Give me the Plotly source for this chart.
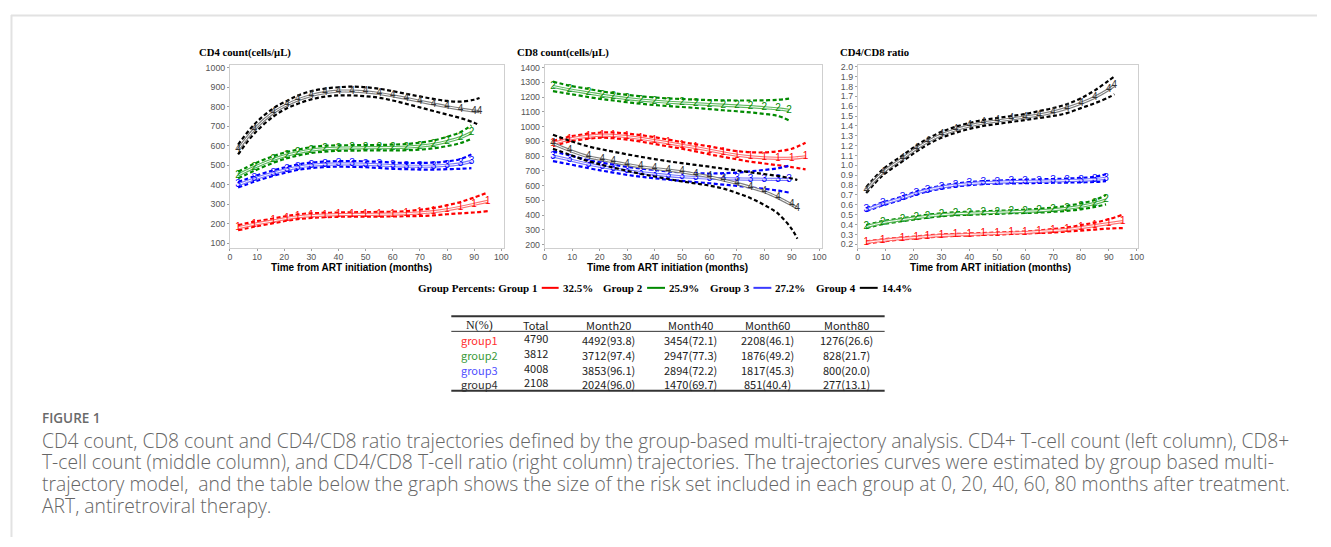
import plotly.graph_objects as go

# page body has an 8px margin, so the figure starts at (8, 8) in the window;
# keep the figure inside the window so no scrollbars appear
OFF = 8
W, H = 1331 - 2 * OFF, 547 - 2 * OFF

# ---------------- data ----------------
MONTHS_G1 = [3, 9, 16, 21, 25, 30, 35, 40, 45, 50, 55, 60, 65, 70, 75, 80, 85, 90, 95]
MONTHS_G2 = [3, 9, 16, 21, 25, 30, 35, 40, 45, 50, 55, 60, 65, 70, 75, 80, 85, 89]
MONTHS_G3 = [3, 9, 16, 21, 25, 30, 35, 40, 45, 50, 55, 60, 65, 70, 75, 80, 85, 89]
MONTHS_G4 = [3, 9, 16, 21, 25, 30, 35, 40, 45, 50, 55, 60, 65, 70, 75, 80, 85, 90, 92]

# CD4 count (cells/uL)
CD4_G1_EST = [180, 198, 215, 228, 236, 242, 245, 247, 248, 248, 249, 250, 252, 256, 262, 272, 285, 300, 315]
CD4_G1_LO = [167, 185, 203, 216, 224, 230, 234, 236, 237, 237, 237, 238, 239, 240, 243, 249, 254, 258, 265]
CD4_G1_HI = [193, 211, 227, 240, 248, 254, 256, 258, 259, 260, 261, 262, 265, 272, 281, 295, 312, 335, 360]
CD4_G2_EST = [450, 490, 530, 552, 565, 578, 585, 588, 589, 590, 590, 591, 593, 598, 607, 622, 642, 668]
CD4_G2_LO = [433, 472, 513, 536, 550, 563, 570, 574, 575, 576, 576, 576, 577, 580, 587, 598, 614, 636]
CD4_G2_HI = [467, 508, 547, 568, 580, 593, 600, 602, 603, 604, 604, 606, 609, 616, 627, 646, 670, 705]
CD4_G3_EST = [400, 430, 460, 478, 490, 500, 505, 507, 507, 505, 502, 498, 496, 495, 496, 500, 507, 520]
CD4_G3_LO = [386, 416, 446, 464, 476, 486, 491, 493, 492, 490, 486, 482, 480, 478, 478, 480, 482, 485]
CD4_G3_HI = [414, 444, 474, 492, 504, 514, 519, 521, 522, 520, 518, 514, 512, 512, 514, 520, 532, 556]
CD4_G4_EST = [580, 685, 770, 810, 835, 858, 872, 880, 880, 876, 868, 856, 843, 828, 814, 800, 788, 778, 775]
CD4_G4_LO = [556, 663, 750, 792, 815, 838, 852, 858, 858, 854, 846, 832, 815, 797, 778, 760, 742, 718, 705]
CD4_G4_HI = [606, 710, 792, 830, 857, 880, 893, 900, 903, 900, 892, 880, 866, 853, 840, 830, 826, 836, 845]

# CD8 count (cells/uL)
CD8_G1_EST = [885, 915, 935, 942, 940, 932, 920, 905, 890, 873, 858, 840, 822, 806, 795, 788, 785, 786, 795]
CD8_G1_LO = [868, 898, 918, 925, 921, 912, 898, 882, 866, 850, 832, 812, 795, 778, 762, 750, 738, 725, 710]
CD8_G1_HI = [902, 932, 952, 960, 960, 953, 942, 928, 912, 895, 880, 866, 848, 834, 826, 825, 833, 850, 890]
CD8_G2_EST = [1272, 1250, 1228, 1212, 1202, 1190, 1180, 1172, 1165, 1160, 1155, 1150, 1145, 1140, 1135, 1128, 1120, 1110]
CD8_G2_LO = [1240, 1222, 1200, 1186, 1177, 1165, 1155, 1146, 1139, 1133, 1126, 1119, 1111, 1104, 1096, 1086, 1072, 1042]
CD8_G2_HI = [1305, 1278, 1255, 1238, 1227, 1215, 1205, 1198, 1191, 1187, 1183, 1180, 1178, 1177, 1177, 1178, 1182, 1190]
CD8_G3_EST = [800, 775, 745, 728, 715, 700, 688, 678, 668, 660, 655, 650, 647, 645, 644, 643, 642, 642]
CD8_G3_LO = [766, 745, 718, 701, 688, 673, 660, 650, 640, 632, 624, 616, 607, 598, 588, 578, 566, 553]
CD8_G3_HI = [832, 805, 772, 755, 742, 727, 716, 706, 697, 689, 684, 682, 684, 688, 697, 706, 718, 735]
CD8_G4_EST = [885, 839, 795, 776, 761, 743, 727, 716, 705, 693, 677, 660, 638, 615, 588, 559, 518, 469, 447]
CD8_G4_LO = [850, 810, 765, 740, 722, 700, 680, 662, 645, 628, 615, 600, 580, 550, 515, 468, 410, 305, 240]
CD8_G4_HI = [945, 905, 865, 845, 830, 812, 795, 780, 765, 752, 740, 728, 715, 703, 690, 678, 665, 648, 638]

# CD4/CD8 ratio
RATIO_G1_EST = [0.22, 0.24, 0.26, 0.27, 0.28, 0.29, 0.295, 0.30, 0.305, 0.31, 0.315, 0.32, 0.33, 0.34, 0.35, 0.37, 0.39, 0.41, 0.43]
RATIO_G1_LO = [0.21, 0.23, 0.25, 0.26, 0.27, 0.28, 0.285, 0.29, 0.295, 0.30, 0.305, 0.31, 0.315, 0.32, 0.33, 0.34, 0.35, 0.36, 0.365]
RATIO_G1_HI = [0.23, 0.25, 0.27, 0.28, 0.29, 0.30, 0.305, 0.31, 0.315, 0.32, 0.325, 0.33, 0.34, 0.355, 0.37, 0.395, 0.42, 0.455, 0.50]
RATIO_G2_EST = [0.38, 0.42, 0.45, 0.47, 0.485, 0.50, 0.51, 0.515, 0.52, 0.525, 0.53, 0.535, 0.54, 0.55, 0.565, 0.585, 0.615, 0.65]
RATIO_G2_LO = [0.365, 0.405, 0.435, 0.455, 0.47, 0.485, 0.495, 0.50, 0.505, 0.51, 0.515, 0.518, 0.522, 0.53, 0.54, 0.555, 0.58, 0.605]
RATIO_G2_HI = [0.395, 0.435, 0.465, 0.485, 0.50, 0.515, 0.525, 0.53, 0.535, 0.54, 0.545, 0.552, 0.56, 0.572, 0.59, 0.615, 0.65, 0.70]
RATIO_G3_EST = [0.55, 0.61, 0.67, 0.72, 0.75, 0.78, 0.80, 0.815, 0.825, 0.83, 0.835, 0.838, 0.84, 0.843, 0.846, 0.85, 0.858, 0.87]
RATIO_G3_LO = [0.535, 0.595, 0.655, 0.705, 0.735, 0.765, 0.785, 0.80, 0.81, 0.815, 0.818, 0.82, 0.822, 0.824, 0.826, 0.828, 0.832, 0.84]
RATIO_G3_HI = [0.565, 0.625, 0.685, 0.735, 0.765, 0.795, 0.815, 0.83, 0.84, 0.845, 0.852, 0.856, 0.858, 0.862, 0.866, 0.873, 0.885, 0.91]
RATIO_G4_EST = [0.75, 0.93, 1.07, 1.17, 1.24, 1.31, 1.36, 1.40, 1.43, 1.45, 1.47, 1.49, 1.51, 1.54, 1.58, 1.63, 1.69, 1.77, 1.81]
RATIO_G4_LO = [0.72, 0.90, 1.04, 1.14, 1.21, 1.28, 1.33, 1.37, 1.40, 1.42, 1.44, 1.46, 1.48, 1.50, 1.53, 1.58, 1.63, 1.69, 1.72]
RATIO_G4_HI = [0.78, 0.96, 1.10, 1.20, 1.27, 1.34, 1.39, 1.43, 1.46, 1.48, 1.50, 1.52, 1.55, 1.58, 1.62, 1.68, 1.76, 1.86, 1.90]

PANEL_TITLES = ["CD4 count(cells/\u03bcL)", "CD8 count(cells/\u03bcL)", "CD4/CD8 ratio"]
X_TITLE = "Time from ART initiation (months)"
GROUP_LABELS = ["Group 1", "Group 2", "Group 3", "Group 4"]
GROUP_DIGITS = ["1", "2", "3", "4"]
GROUP_PERCENTS = [32.5, 25.9, 27.2, 14.4]

TABLE_HEADER = ["N(%)", "Total", "Month20", "Month40", "Month60", "Month80"]
TABLE_GROUPS = ["group1", "group2", "group3", "group4"]
TABLE_TOTAL = ["4790", "3812", "4008", "2108"]
TABLE_M20 = ["4492(93.8)", "3712(97.4)", "3853(96.1)", "2024(96.0)"]
TABLE_M40 = ["3454(72.1)", "2947(77.3)", "2894(72.2)", "1470(69.7)"]
TABLE_M60 = ["2208(46.1)", "1876(49.2)", "1817(45.3)", "851(40.4)"]
TABLE_M80 = ["1276(26.6)", "828(21.7)", "800(20.0)", "277(13.1)"]

CAPTION_LABEL = "FIGURE 1"
CAPTION_LINES = [
    "CD4 count, CD8 count and CD4/CD8 ratio trajectories defined by the group-based multi-trajectory analysis. CD4+ T-cell count (left column), CD8+",
    "T-cell count (middle column), and CD4/CD8 T-cell ratio (right column) trajectories. The trajectories curves were estimated by group based multi-",
    "trajectory model,  and the table below the graph shows the size of the risk set included in each group at 0, 20, 40, 60, 80 months after treatment.",
    "ART, antiretroviral therapy.",
]

# ---------------- styling ----------------
DASH_COLORS = ["#ff0000", "#008a00", "#0000ff", "#000000"]
LINE_COLORS = ["#ff7070", "#5cb85c", "#7777ff", "#808080"]
TABLE_COLORS = ["#ff3030", "#3a9a3a", "#5050ff", "#333333"]


def px(x):
    return (x - OFF) / W


def py(y):
    return 1 - (y - OFF) / H


fig = go.Figure()

panel_data = [
    [(MONTHS_G1, CD4_G1_EST, CD4_G1_LO, CD4_G1_HI), (MONTHS_G2, CD4_G2_EST, CD4_G2_LO, CD4_G2_HI),
     (MONTHS_G3, CD4_G3_EST, CD4_G3_LO, CD4_G3_HI), (MONTHS_G4, CD4_G4_EST, CD4_G4_LO, CD4_G4_HI)],
    [(MONTHS_G1, CD8_G1_EST, CD8_G1_LO, CD8_G1_HI), (MONTHS_G2, CD8_G2_EST, CD8_G2_LO, CD8_G2_HI),
     (MONTHS_G3, CD8_G3_EST, CD8_G3_LO, CD8_G3_HI), (MONTHS_G4, CD8_G4_EST, CD8_G4_LO, CD8_G4_HI)],
    [(MONTHS_G1, RATIO_G1_EST, RATIO_G1_LO, RATIO_G1_HI), (MONTHS_G2, RATIO_G2_EST, RATIO_G2_LO, RATIO_G2_HI),
     (MONTHS_G3, RATIO_G3_EST, RATIO_G3_LO, RATIO_G3_HI), (MONTHS_G4, RATIO_G4_EST, RATIO_G4_LO, RATIO_G4_HI)],
]

axis_suffix = ["", "2", "3"]
for p, groups in enumerate(panel_data):
    xa = "x" + axis_suffix[p]
    ya = "y" + axis_suffix[p]
    for g, (mx, est, lo, hi) in enumerate(groups):
        for band in (hi, lo):
            fig.add_trace(go.Scatter(
                x=mx, y=band, mode="lines", xaxis=xa, yaxis=ya,
                line=dict(color=DASH_COLORS[g], width=2.2, dash="4px,2.5px", shape="spline"),
                hoverinfo="skip"))
        fig.add_trace(go.Scatter(
            x=mx, y=est, mode="lines", xaxis=xa, yaxis=ya,
            line=dict(color=LINE_COLORS[g], width=3.2, shape="spline"), hoverinfo="skip"))
        fig.add_trace(go.Scatter(
            x=mx, y=est, mode="lines+text", xaxis=xa, yaxis=ya,
            line=dict(color="white", width=1, shape="spline"),
            text=[GROUP_DIGITS[g]] * len(mx), textposition="middle center",
            textfont=dict(family="Arial", size=10, color=DASH_COLORS[g] if g != 3 else "#333333"),
            hoverinfo="skip"))

# axes geometry (pixels in the window)
boxes_x = [(229.3, 505.0), (546.0, 825.0), (861.0, 1143.0)]
box_y = (62.0, 246.7)
x_ranges = [[0, 101], [0, 101], [0, 100.5]]
y_ranges = [[76, 1012], [177, 1415], [0.163, 2.013]]
y_ticks = [list(range(100, 1001, 100)), list(range(200, 1401, 100)), [round(0.2 + 0.1 * i, 1) for i in range(19)]]

axis_common = dict(showgrid=False, zeroline=False, showline=True, mirror=True,
                   linecolor="#cfcfcf", linewidth=1, ticks="outside", ticklen=2,
                   tickcolor="#a0a0a0", tickfont=dict(family="Arial", size=8.8, color="#555555"))
layout_axes = {}
for p in range(3):
    s = axis_suffix[p]
    layout_axes["xaxis" + s] = dict(axis_common, domain=[px(boxes_x[p][0]), px(boxes_x[p][1])],
                                    range=x_ranges[p], tickvals=list(range(0, 101, 10)),
                                    ticklabelstandoff=-2, anchor="y" + s)
    layout_axes["yaxis" + s] = dict(axis_common, domain=[py(box_y[1]), py(box_y[0])],
                                    range=y_ranges[p], tickvals=y_ticks[p],
                                    tickformat=".1f" if p == 2 else "d",
                                    anchor="x" + s)

annotations = []
title_x = [196, 516, 841]
xt_center = [352, 669.5, 994.5]
for p in range(3):
    annotations.append(dict(x=px(title_x[p]), y=py(48.5), xref="paper", yref="paper",
                            xanchor="left", yanchor="middle", showarrow=False,
                            text="<b>" + PANEL_TITLES[p] + "</b>",
                            font=dict(family="Liberation Serif", size=10.7, color="#000000")))
    annotations.append(dict(x=px(xt_center[p]), y=py(266.5), xref="paper", yref="paper",
                            xanchor="center", yanchor="middle", showarrow=False,
                            text="<b>" + X_TITLE + "</b>",
                            font=dict(family="Arial", size=10, color="#000000")))

# legend row
shapes = []
leg_font = dict(family="Liberation Serif", size=11, color="#000000")
leg_y = 287
label_x = [418, 605, 712, 819]
line_x = [(543, 560), (649, 667), (756, 774), (863, 881)]
pct_x = [564, 671, 778, 885]
for g in range(4):
    lbl = ("Group Percents: " if g == 0 else "") + GROUP_LABELS[g]
    annotations.append(dict(x=px(label_x[g] - 2), y=py(leg_y), xref="paper", yref="paper",
                            xanchor="left", yanchor="middle", showarrow=False,
                            text="<b>" + lbl + "</b>", font=leg_font))
    annotations.append(dict(x=px(pct_x[g] - 2), y=py(leg_y), xref="paper", yref="paper",
                            xanchor="left", yanchor="middle", showarrow=False,
                            text="<b>%.1f%%</b>" % GROUP_PERCENTS[g], font=leg_font))
    shapes.append(dict(type="line", xref="paper", yref="paper",
                       x0=px(line_x[g][0]), x1=px(line_x[g][1]), y0=py(leg_y), y1=py(leg_y),
                       line=dict(color=DASH_COLORS[g] if g != 2 else "#3b3bff", width=2)))

# table
col_x = [480, 537, 610, 693, 770, 850]
head_y = 325
row_y = [340, 355, 370, 384.5]
tfont = "Noto Sans CJK SC"
for c, h in enumerate(TABLE_HEADER):
    annotations.append(dict(x=px(col_x[c]), y=py(head_y), xref="paper", yref="paper",
                            xanchor="center", yanchor="middle", showarrow=False, text=h,
                            font=dict(family="Liberation Serif" if c == 0 else tfont,
                                      size=12 if c == 0 else 11, color="#222222")))
cols = [TABLE_GROUPS, TABLE_TOTAL, TABLE_M20, TABLE_M40, TABLE_M60, TABLE_M80]
for c, col in enumerate(cols):
    for r, val in enumerate(col):
        annotations.append(dict(x=px(col_x[c]), y=py(row_y[r] - (2 if c == 1 else 0)),
                                xref="paper", yref="paper",
                                xanchor="center", yanchor="middle", showarrow=False, text=val,
                                font=dict(family=tfont, size=11,
                                          color=TABLE_COLORS[r] if c == 0 else "#222222")))
for yy, wdt in [(315.7, 2), (331, 1), (391, 2)]:
    shapes.append(dict(type="line", xref="paper", yref="paper", x0=px(452), x1=px(888),
                       y0=py(yy), y1=py(yy), line=dict(color="#333333", width=wdt)))

# caption
annotations.append(dict(x=px(38), y=py(419), xref="paper", yref="paper", xanchor="left",
                        yanchor="middle", showarrow=False, text=CAPTION_LABEL,
                        font=dict(family="Open Sans", size=13.5, color="#6a6a6a", weight=600)))
cap_y = [441, 463, 485, 507]
for i, line in enumerate(CAPTION_LINES):
    annotations.append(dict(x=px(38), y=py(cap_y[i]), xref="paper", yref="paper",
                            xanchor="left", yanchor="middle", showarrow=False,
                            text=line.replace("  ", "&nbsp; "),
                            font=dict(family="Open Sans", size=19.3, color="#666666", weight=300)))

# page frame
shapes.append(dict(type="line", xref="paper", yref="paper", x0=px(9), x1=1, y0=py(11.5), y1=py(11.5),
                   line=dict(color="#e2e2e2", width=2)))
shapes.append(dict(type="line", xref="paper", yref="paper", x0=px(9.5), x1=px(9.5), y0=py(11), y1=0,
                   line=dict(color="#e2e2e2", width=2)))

fig.update_layout(
    width=W, height=H, margin=dict(l=0, r=0, t=0, b=0),
    paper_bgcolor="white", plot_bgcolor="white", showlegend=False,
    annotations=annotations, shapes=shapes, hovermode=False,
    **layout_axes)

fig.write_html("out.html", config={"displayModeBar": False})
